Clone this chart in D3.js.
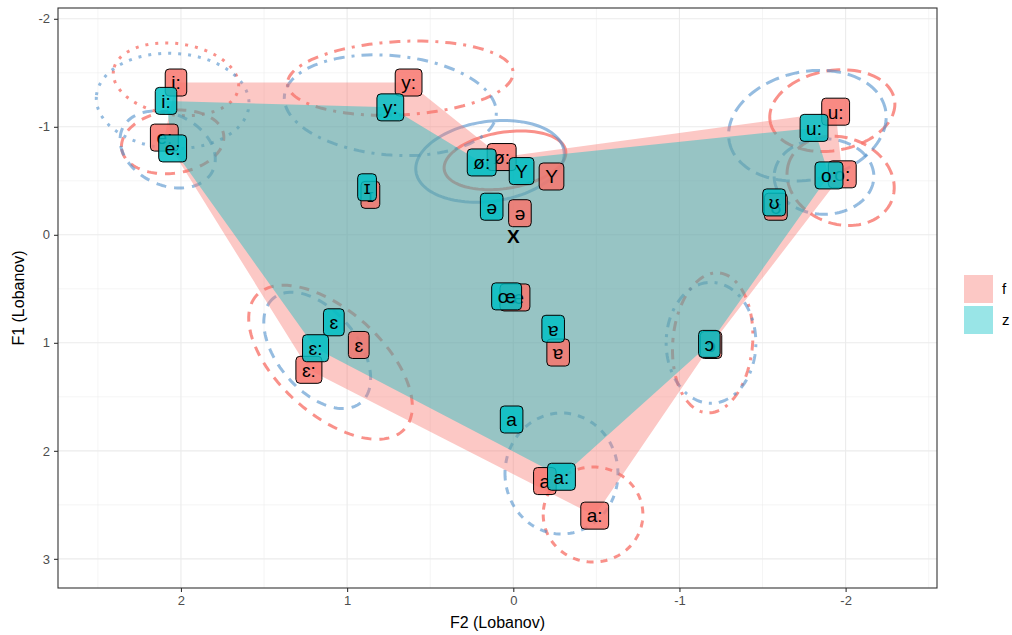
<!DOCTYPE html>
<html>
<head>
<meta charset="utf-8">
<script src="https://cdn.jsdelivr.net/npm/d3@7"></script>
<style>
body { margin: 0; background: #fff; }
svg text { font-family: "Liberation Sans", Arial, "DejaVu Sans", sans-serif; }
</style>
</head>
<body>
<div id="chart"></div>
<script>
// vowel means (Lobanov), group f
let f_vowels = ["i:", "e:", "y:", "ø:", "Y", "ə", "ɪ", "œ", "ɐ", "ɛ", "ɛ:", "a", "a:", "ɔ", "ʊ", "o:", "u:"];
let f_f2 = [2.03, 2.10, 0.63, 0.07, -0.23, -0.04, 0.86, -0.01, -0.27, 0.93, 1.23, -0.19, -0.49, -1.19, -1.58, -1.98, -1.94];
let f_f1 = [-1.41, -0.90, -1.41, -0.72, -0.54, -0.20, -0.37, 0.58, 1.09, 1.02, 1.25, 2.28, 2.60, 1.02, -0.26, -0.56, -1.14];

// vowel means (Lobanov), group z
let z_vowels = ["i:", "e:", "y:", "ø:", "Y", "ə", "ɪ", "œ", "ɐ", "ɛ", "ɛ:", "a", "a:", "ɔ", "ʊ", "o:", "u:"];
let z_f2 = [2.09, 2.05, 0.74, 0.19, -0.05, 0.13, 0.88, 0.04, -0.24, 1.08, 1.19, 0.01, -0.29, -1.18, -1.57, -1.90, -1.81];
let z_f1 = [-1.24, -0.80, -1.18, -0.67, -0.59, -0.26, -0.44, 0.57, 0.87, 0.81, 1.05, 1.71, 2.24, 1.01, -0.30, -0.55, -0.99];

// corner vowels of the polygon, in drawing order
let hull_order = ["i:", "y:", "ø:", "u:", "o:", "ɔ", "a:", "ɛ:", "e:"];

// ellipses: centre, radii (data units) and tilt (degrees)
let ell_vowels = ["i:", "e:", "y:", "ø:", "ɛ:", "a:", "ɔ", "u:", "o:"];
let f_ell_f2 = [2.03, 2.05, 0.68, 0.05, 1.10, -0.48, -1.20, -1.92, -1.97];
let f_ell_f1 = [-1.44, -0.86, -1.45, -0.69, 1.18, 2.59, 1.00, -1.15, -0.50];
let f_ell_r2 = [0.38, 0.31, 0.68, 0.37, 0.60, 0.30, 0.24, 0.38, 0.33];
let f_ell_r1 = [0.33, 0.29, 0.34, 0.26, 0.48, 0.44, 0.65, 0.37, 0.40];
let f_ell_angle = [8, -8, -3, -9, 42, 0, 5, -10, 20];

let z_ell_f2 = [2.05, 2.08, 0.74, 0.14, 1.18, -0.29, -1.19, -1.77, -1.87];
let z_ell_f1 = [-1.24, -0.79, -1.20, -0.68, 1.07, 2.21, 1.00, -1.01, -0.54];
let z_ell_r2 = [0.46, 0.30, 0.64, 0.45, 0.41, 0.34, 0.27, 0.48, 0.30];
let z_ell_r1 = [0.44, 0.33, 0.46, 0.37, 0.37, 0.56, 0.56, 0.50, 0.35];
let z_ell_angle = [3, 25, 5, -8, 50, 0, 0, -12, 0];

// centroid marker
let centre_f2 = [0.0];
let centre_f1 = [0.01];

let x_ticks = [2, 1, 0, -1, -2];
let x_minor = [2.5, 1.5, 0.5, -0.5, -1.5, -2.5];
let y_ticks = [-2, -1, 0, 1, 2, 3];
let y_minor = [-1.5, -0.5, 0.5, 1.5, 2.5];
let groups = ["f", "z"];


let config = {
    width: 1012, height: 635,
    plot: { left: 58, right: 937, top: 8, bottom: 588 }
};
let colours = { f: "#F8766D", z: "#00BFC4" };
let ell_colours = { f: "#F8766D", z: "#4F8FCB" };
let dashes = {
    "i:": "3,7", "e:": "10,8", "y:": "3,7,11,7", "ø:": null, "ɛ:": "10,8",
    "a:": "7,7", "ɔ": "3,7,10,7", "u:": "14,7", "o:": "13,7"
};

let svg = d3.select("#chart").append("svg")
    .attr("width", config.width)
    .attr("height", config.height);

let x = d3.scaleLinear().domain([2.74, -2.55]).range([config.plot.left, config.plot.right]);
let y = d3.scaleLinear().domain([-2.10, 3.27]).range([config.plot.top, config.plot.bottom]);

svg.append("defs").append("clipPath").attr("id", "panel")
    .append("rect")
        .attr("x", config.plot.left).attr("y", config.plot.top)
        .attr("width", config.plot.right - config.plot.left)
        .attr("height", config.plot.bottom - config.plot.top);

// grid
let grid = svg.append("g").attr("class", "grid");
grid.selectAll(".xminor").data(x_minor).enter().append("line")
    .attr("x1", d => x(d)).attr("x2", d => x(d))
    .attr("y1", config.plot.top).attr("y2", config.plot.bottom)
    .attr("stroke", "#EBEBEB").attr("stroke-width", 0.55);
grid.selectAll(".yminor").data(y_minor).enter().append("line")
    .attr("y1", d => y(d)).attr("y2", d => y(d))
    .attr("x1", config.plot.left).attr("x2", config.plot.right)
    .attr("stroke", "#EBEBEB").attr("stroke-width", 0.55);
grid.selectAll(".xmajor").data(x_ticks).enter().append("line")
    .attr("x1", d => x(d)).attr("x2", d => x(d))
    .attr("y1", config.plot.top).attr("y2", config.plot.bottom)
    .attr("stroke", "#EBEBEB").attr("stroke-width", 1.1);
grid.selectAll(".ymajor").data(y_ticks).enter().append("line")
    .attr("y1", d => y(d)).attr("y2", d => y(d))
    .attr("x1", config.plot.left).attr("x2", config.plot.right)
    .attr("stroke", "#EBEBEB").attr("stroke-width", 1.1);

let plot = svg.append("g").attr("clip-path", "url(#panel)");

// ellipses
function ellipsePath(cx, cy, r2, r1) {
    let pts = d3.range(0, 121).map((i) => {
        let t = i / 120 * 2 * Math.PI;
        return [x(cx + r2 * Math.cos(t)), y(cy + r1 * Math.sin(t))];
    });
    return d3.line()(pts) + "Z";
}

function drawEllipses(g, f2, f1, r2, r1, angle) {
    let data = ell_vowels.map((v, i) => ({ v: v, f2: f2[i], f1: f1[i], r2: r2[i], r1: r1[i], a: angle[i] }));
    plot.selectAll(".ell-" + g)
        .data(data)
        .enter()
        .append("path")
            .attr("class", "ell-" + g)
            .attr("d", d => ellipsePath(d.f2, d.f1, d.r2, d.r1))
            .attr("transform", d => "rotate(" + d.a + "," + x(d.f2) + "," + y(d.f1) + ")")
            .attr("fill", "none")
            .attr("stroke", ell_colours[g])
            .attr("stroke-opacity", g == "f" ? 0.8 : 0.6)
            .attr("stroke-width", 3)
            .attr("stroke-dasharray", d => dashes[d.v]);
}
drawEllipses("f", f_ell_f2, f_ell_f1, f_ell_r2, f_ell_r1, f_ell_angle);
drawEllipses("z", z_ell_f2, z_ell_f1, z_ell_r2, z_ell_r1, z_ell_angle);

// vowel polygons
function drawHull(g, vowels, f2, f1) {
    let pts = hull_order.map((v) => {
        let i = vowels.indexOf(v);
        return [x(f2[i]), y(f1[i])];
    });
    plot.append("path")
        .attr("d", d3.line()(pts) + "Z")
        .attr("fill", colours[g])
        .attr("fill-opacity", 0.4);
}
drawHull("f", f_vowels, f_f2, f_f1);
drawHull("z", z_vowels, z_f2, z_f1);

// labels
function drawLabels(g, vowels, f2, f1) {
    let lab = plot.selectAll(".lab-" + g)
        .data(vowels.map((v, i) => ({ v: v, f2: f2[i], f1: f1[i] })))
        .enter()
        .append("g")
            .attr("class", "lab-" + g)
            .attr("transform", d => translate(x(d.f2), y(d.f1)));
    let rects = lab.append("rect");
    let texts = lab.append("text")
        .attr("text-anchor", "middle")
        .attr("dy", "0.36em")
        .style("font-size", "19px")
        .attr("fill", "#000")
        .text(d => d.v);
    texts.each(function(d) { d.w = this.getComputedTextLength() + 12; });
    rects
        .attr("x", d => -d.w / 2).attr("y", -13.5)
        .attr("width", d => d.w).attr("height", 27)
        .attr("rx", 4).attr("ry", 4)
        .attr("fill", colours[g]).attr("fill-opacity", 0.85)
        .attr("stroke", "#000").attr("stroke-width", 1);
}
drawLabels("f", f_vowels, f_f2, f_f1);
drawLabels("z", z_vowels, z_f2, z_f1);

plot.selectAll(".centre")
    .data(centre_f2.map((d, i) => [d, centre_f1[i]]))
    .enter()
    .append("text")
        .attr("x", d => x(d[0])).attr("y", d => y(d[1]))
        .attr("dy", "0.36em")
        .attr("text-anchor", "middle")
        .style("font-size", "19px").style("font-weight", "bold")
        .text("X");

// panel border
svg.append("rect")
    .attr("x", config.plot.left).attr("y", config.plot.top)
    .attr("width", config.plot.right - config.plot.left)
    .attr("height", config.plot.bottom - config.plot.top)
    .attr("fill", "none").attr("stroke", "#333333").attr("stroke-width", 1.1);

// axes
let xAxis = svg.append("g")
    .attr("transform", translate(0, config.plot.bottom))
    .call(d3.axisBottom(x).tickValues(x_ticks).tickSize(4).tickPadding(4).tickFormat(d => String(d)));
let yAxis = svg.append("g")
    .attr("transform", translate(config.plot.left, 0))
    .call(d3.axisLeft(y).tickValues(y_ticks).tickSize(4).tickPadding(4).tickFormat(d => String(d)));
[xAxis, yAxis].forEach((a) => {
    a.select(".domain").remove();
    a.selectAll(".tick line").attr("stroke", "#333333").attr("stroke-width", 1.1);
    a.selectAll(".tick text").attr("fill", "#4D4D4D")
        .style("font-size", "13px").style("font-family", "Liberation Sans, Arial, sans-serif");
});

// axis titles
svg.append("text")
    .attr("transform", translate((config.plot.left + config.plot.right) / 2, 628))
    .attr("text-anchor", "middle")
    .style("font-size", "16px")
    .text("F2 (Lobanov)");
svg.append("text")
    .attr("transform", translate(24, (config.plot.top + config.plot.bottom) / 2) + " rotate(-90)")
    .attr("text-anchor", "middle")
    .style("font-size", "16px")
    .text("F1 (Lobanov)");

// legend
let legend = svg.append("g").attr("transform", translate(964, 275));
legend.selectAll("rect").data(groups).enter().append("rect")
    .attr("x", 0).attr("y", (d, i) => i * 31)
    .attr("width", 29).attr("height", 28)
    .attr("fill", d => colours[d]).attr("fill-opacity", 0.4);
legend.selectAll("text").data(groups).enter().append("text")
    .attr("x", 38).attr("y", (d, i) => i * 31 + 14)
    .attr("dy", "0.36em")
    .style("font-size", "15px")
    .text(d => d);


// helper method to make translating easier
function translate(x, y) {
    return 'translate(' + x + ',' + y + ')';
}
</script>
</body>
</html>
